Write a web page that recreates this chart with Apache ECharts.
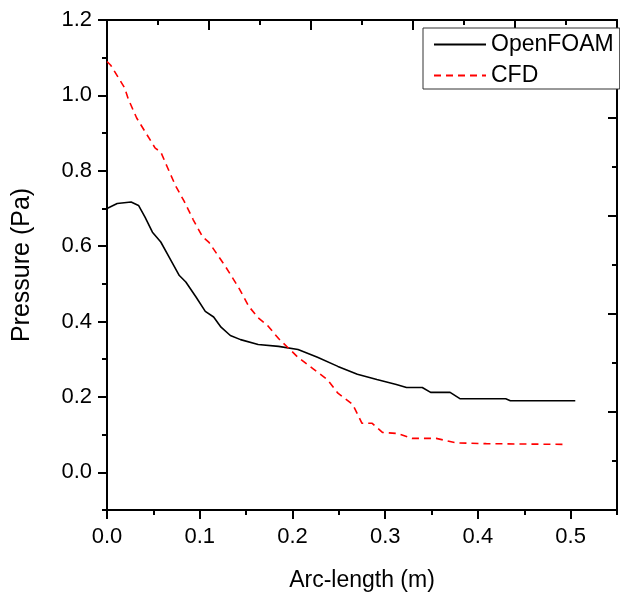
<!DOCTYPE html>
<html><head><meta charset="utf-8">
<script src="https://cdn.jsdelivr.net/npm/echarts@6/dist/echarts.min.js"></script>
<style>html,body{margin:0;padding:0;background:#fff}#c{width:620px;height:600px}</style>
</head><body><div id="c"></div>
<script>
const openfoamX = [0.000,0.011,0.026,0.034,0.041,0.049,0.058,0.067,0.078,0.085,0.096,0.106,0.115,0.123,0.133,0.144,0.163,0.185,0.206,0.227,0.249,0.270,0.291,0.312,0.323,0.340,0.349,0.370,0.381,0.430,0.435,0.505];
const openfoamY = [0.700,0.713,0.717,0.708,0.677,0.637,0.611,0.571,0.522,0.505,0.465,0.427,0.412,0.385,0.363,0.352,0.339,0.334,0.326,0.305,0.281,0.260,0.246,0.233,0.225,0.225,0.212,0.212,0.195,0.195,0.190,0.190];
const cfdX = [0.000,0.004,0.019,0.023,0.032,0.042,0.052,0.058,0.065,0.074,0.083,0.093,0.103,0.110,0.128,0.142,0.153,0.163,0.173,0.185,0.206,0.222,0.238,0.249,0.265,0.275,0.286,0.297,0.313,0.329,0.355,0.377,0.409,0.494];
const cfdY = [1.090,1.080,1.020,0.990,0.940,0.900,0.860,0.850,0.810,0.760,0.720,0.670,0.625,0.610,0.545,0.490,0.440,0.410,0.390,0.355,0.305,0.275,0.245,0.210,0.180,0.130,0.130,0.106,0.103,0.090,0.090,0.078,0.076,0.074];
const yMajorTicks = [0.0,0.2,0.4,0.6,0.8,1.0,1.2];
const xMajorTicks = [0.0,0.1,0.2,0.3,0.4,0.5];
const xTitle = 'Arc-length (m)';
const yTitle = 'Pressure (Pa)';
const seriesNames = ['OpenFOAM','CFD'];

const FONT = '"Liberation Sans", Arial, sans-serif';
const black = '#000';
const lineAx = {show:true, onZero:false, lineStyle:{color:black, width:2}};
const noLine = {show:false, onZero:false};

const chart = echarts.init(document.getElementById('c'), null, {renderer:'canvas'});
chart.setOption({
  animation:false,
  backgroundColor:'#fff',
  grid:{left:107, top:20, width:516, height:490, containLabel:false},
  legend:{
    left:423, top:28, orient:'vertical',
    data:seriesNames,
    itemWidth:52, itemHeight:25, itemGap:8,
    padding:[5,6,2,10],
    borderColor:'#333', borderWidth:1, backgroundColor:'#fff',
    itemStyle:{opacity:0},
    textStyle:{fontFamily:FONT, fontSize:23, color:black}
  },
  xAxis:[
    {type:'value', min:0, max:0.55, interval:0.05, position:'bottom',
     axisLine:lineAx, splitLine:{show:false},
     axisTick:{show:true, length:5, lineStyle:{color:black,width:2}},
     axisLabel:{margin:16, fontFamily:FONT, fontSize:22, color:black,
       formatter:v=>{const k=Math.round(v*100); return (k%10===0 && k<=50)? (k/100).toFixed(1):'';}},
     name:xTitle, nameLocation:'middle', nameGap:59,
     nameTextStyle:{fontFamily:FONT, fontSize:23, color:black}},
    {type:'value', min:0, max:0.55, position:'bottom',
     axisLine:noLine, splitLine:{show:false}, axisLabel:{show:false},
     axisTick:{show:true, length:9, customValues:xMajorTicks, lineStyle:{color:black,width:2}}},
    {type:'value', min:0, max:10, interval:2, position:'top',
     axisLine:lineAx, splitLine:{show:false}, axisLabel:{show:false},
     axisTick:{show:true, inside:true, length:10, lineStyle:{color:black,width:2}},
     minorTick:{show:true, splitNumber:2, length:5, lineStyle:{color:black,width:2}}}
  ],
  yAxis:[
    {type:'value', min:-0.1, max:1.2, interval:0.1, position:'left',
     axisLine:lineAx, splitLine:{show:false},
     axisTick:{show:true, length:5, lineStyle:{color:black,width:2}},
     axisLabel:{margin:15, fontFamily:FONT, fontSize:22, color:black,
       formatter:v=>{const k=Math.round(v*10); return (k>=0 && k%2===0)? (k/10).toFixed(1):'';}},
     name:yTitle, nameLocation:'middle', nameGap:72, nameRotate:90,
     nameTextStyle:{fontFamily:FONT, fontSize:25, color:black}},
    {type:'value', min:-0.1, max:1.2, position:'left',
     axisLine:noLine, splitLine:{show:false}, axisLabel:{show:false},
     axisTick:{show:true, length:9, customValues:yMajorTicks, lineStyle:{color:black,width:2}}},
    {type:'value', min:0, max:10, interval:2, position:'right',
     axisLine:lineAx, splitLine:{show:false}, axisLabel:{show:false},
     axisTick:{show:true, inside:true, length:9, lineStyle:{color:black,width:2}},
     minorTick:{show:true, splitNumber:2, length:5, lineStyle:{color:black,width:2}}}
  ],
  series:[
    {name:seriesNames[0], type:'line', xAxisIndex:0, yAxisIndex:0, symbol:'none',
     lineStyle:{color:black, width:1.6}, itemStyle:{color:black},
     data:openfoamX.map((x,i)=>[x,openfoamY[i]])},
    {name:seriesNames[1], type:'line', xAxisIndex:0, yAxisIndex:0, symbol:'none',
     lineStyle:{color:'#ff0000', width:1.6, type:[7,5]}, itemStyle:{color:'#ff0000'},
     data:cfdX.map((x,i)=>[x,cfdY[i]])}
  ]
});
</script></body></html>
